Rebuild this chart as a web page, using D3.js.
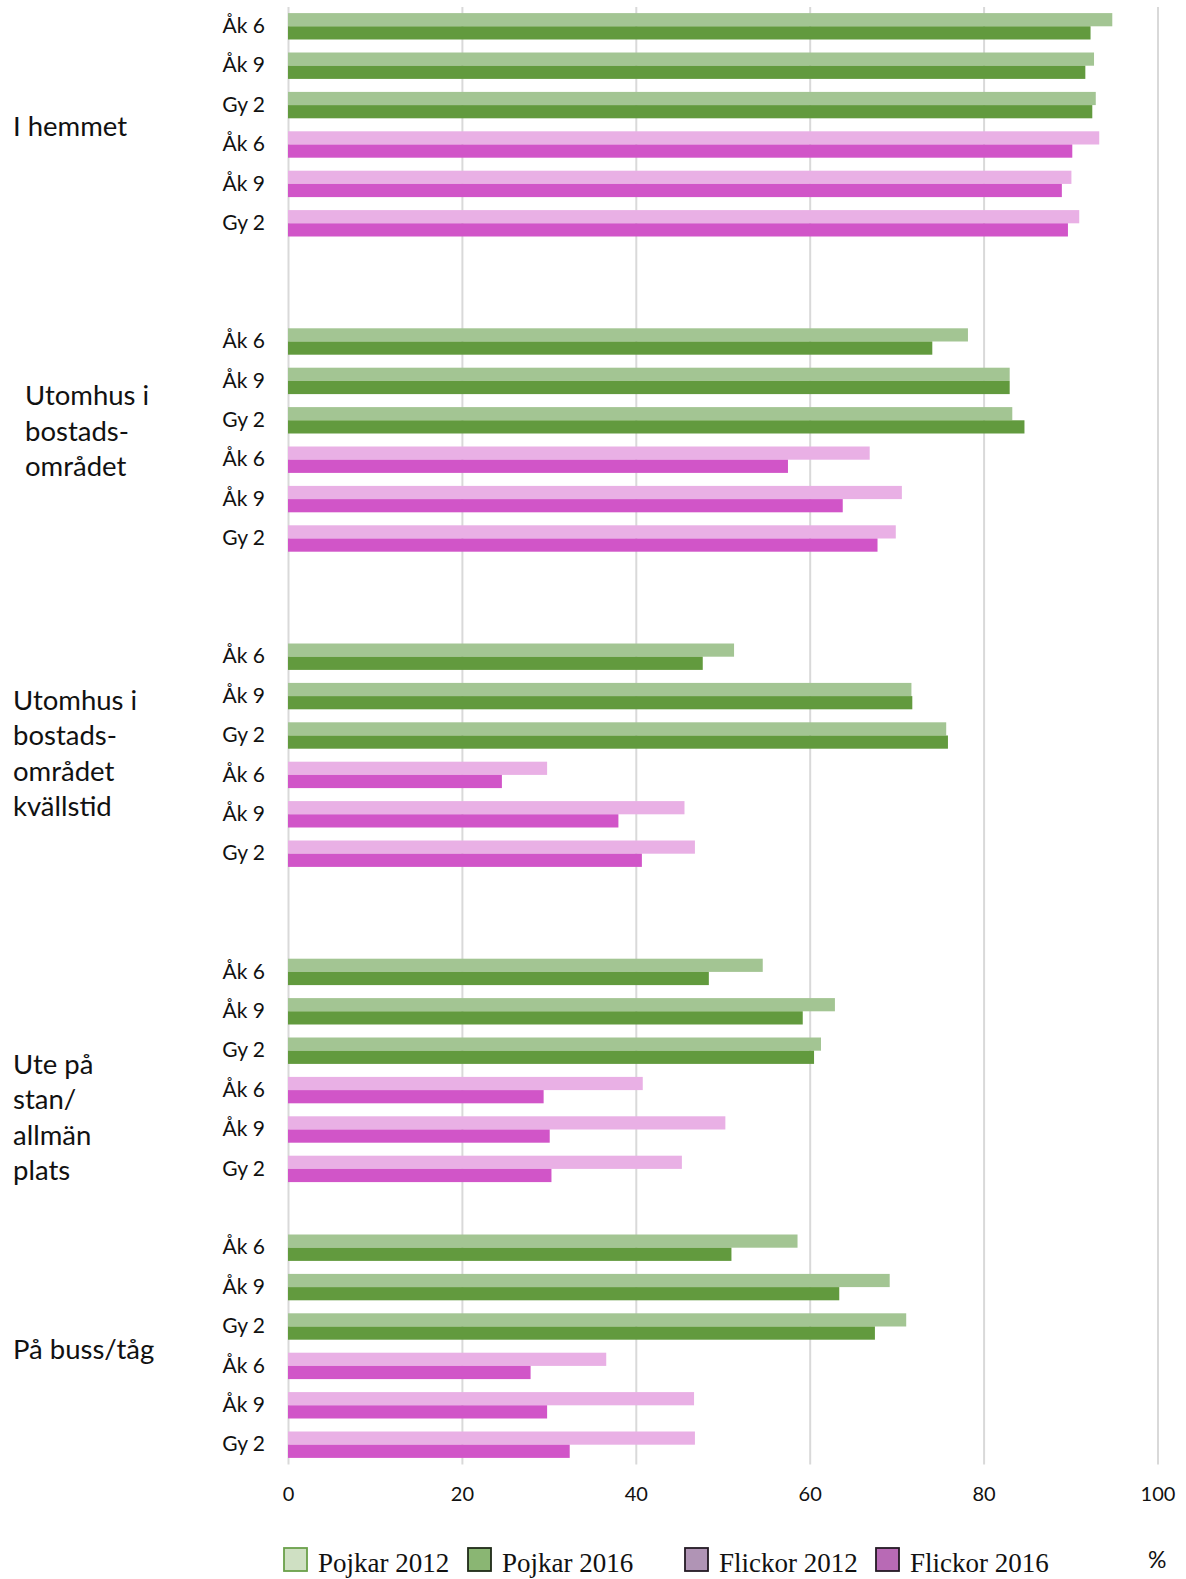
<!DOCTYPE html>
<html>
<head>
<meta charset="utf-8">
<script src="https://cdn.jsdelivr.net/npm/d3@7"></script>
<style>
  html, body { margin: 0; padding: 0; background: #fff; }
  svg { display: block; }
</style>
</head>
<body>
<script>
// ---------- DATA ----------
const groups = [
  ["I hemmet"],
  ["Utomhus i", "bostads-", "området"],
  ["Utomhus i", "bostads-", "området", "kvällstid"],
  ["Ute på", "stan/", "allmän", "plats"],
  ["På buss/tåg"]
];
const grades = ["Åk 6", "Åk 9", "Gy 2"];
const seriesNames = ["Pojkar 2012", "Pojkar 2016", "Flickor 2012", "Flickor 2016"];
// values per group, per grade (Åk 6, Åk 9, Gy 2), percent
const pojkar2012  = [[94.8, 92.7, 92.9], [78.2, 83.0, 83.3], [51.3, 71.7, 75.7], [54.6, 62.9, 61.3], [58.6, 69.2, 71.1]];
const pojkar2016  = [[92.3, 91.7, 92.5], [74.1, 83.0, 84.7], [47.7, 71.8, 75.9], [48.4, 59.2, 60.5], [51.0, 63.4, 67.5]];
const flickor2012 = [[93.3, 90.1, 91.0], [66.9, 70.6, 69.9], [29.8, 45.6, 46.8], [40.8, 50.3, 45.3], [36.6, 46.7, 46.8]];
const flickor2016 = [[90.2, 89.0, 89.7], [57.5, 63.8, 67.8], [24.6, 38.0, 40.7], [29.4, 30.1, 30.3], [27.9, 29.8, 32.4]];
const xTicks = [0, 20, 40, 60, 80, 100];
const unitLabel = "%";

// ---------- LAYOUT ----------
const W = 1186, H = 1579;
const plotLeft = 288, plotRight = 1157.5, plotTop = 6.6, plotBottom = 1464.4;
const spacerAfter = [2, 2, 2, 1, 0];
const groupLabelX = [13, 25, 13, 13, 13];
const groupLabelDy = [2, -9, -2, 47, 3];
const lineH = 35.5;

const colors = {
  p12: "#a3c593", p16: "#629a3e", f12: "#e9b0e5", f16: "#d155c8"
};

// build rows
const rows = [];
const groupRowIdx = [];
groups.forEach((g, gi) => {
  const first = rows.length;
  grades.forEach((gr, k) => rows.push({ key: "r" + rows.length, label: gr, a: pojkar2012[gi][k], b: pojkar2016[gi][k], ca: colors.p12, cb: colors.p16 }));
  grades.forEach((gr, k) => rows.push({ key: "r" + rows.length, label: gr, a: flickor2012[gi][k], b: flickor2016[gi][k], ca: colors.f12, cb: colors.f16 }));
  groupRowIdx.push([first, rows.length - 1]);
  for (let s = 0; s < spacerAfter[gi]; s++) rows.push({ key: "r" + rows.length, label: "", spacer: true });
});

const x = d3.scaleLinear().domain([0, 100]).range([plotLeft, plotRight]);
const y = d3.scaleBand().domain(rows.map(r => r.key)).range([plotTop, plotBottom]).padding(0);
const step = y.step();
const barH = step * 0.335;

const svg = d3.select("body").append("svg").attr("width", W).attr("height", H);

// grid + x axis labels
const xAxis = d3.axisBottom(x).tickValues(xTicks).tickSizeInner(-(plotBottom - 7)).tickSizeOuter(0).tickPadding(22.5);
const gx = svg.append("g").attr("transform", `translate(0,${plotBottom})`).call(xAxis);
gx.select(".domain").remove();
gx.selectAll(".tick line").attr("stroke", "#d9d9d9").attr("stroke-width", 2);
gx.selectAll(".tick text").attr("font-family", "Lato, 'Open Sans', sans-serif").attr("font-size", 20).attr("fill", "#111");

// bars
const rg = svg.append("g").selectAll("g").data(rows.filter(r => !r.spacer)).join("g")
  .attr("transform", d => `translate(0,${y(d.key) + step / 2})`);
rg.append("rect").attr("x", x(0)).attr("y", -barH).attr("height", barH)
  .attr("width", d => x(d.a) - x(0)).attr("fill", d => d.ca);
rg.append("rect").attr("x", x(0)).attr("y", 0).attr("height", barH)
  .attr("width", d => x(d.b) - x(0)).attr("fill", d => d.cb);

// category axis
const yAxis = d3.axisLeft(y).tickSize(0).tickPadding(23).tickFormat(k => rows.find(r => r.key === k).label);
const gy = svg.append("g").attr("transform", `translate(${plotLeft},0)`).call(yAxis);
gy.select(".domain").remove();
gy.selectAll(".tick text").attr("font-family", "Lato, 'Open Sans', sans-serif").attr("font-size", 21).attr("fill", "#111");

// group labels
groups.forEach((lines, gi) => {
  const [a, b] = groupRowIdx[gi];
  const cy = (y(rows[a].key) + y(rows[b].key)) / 2 + step / 2 + groupLabelDy[gi];
  const t = svg.append("text").attr("font-family", "Lato, 'Open Sans', sans-serif").attr("font-size", 27.5).attr("fill", "#111");
  const top = cy - (lines.length - 1) * lineH / 2;
  lines.forEach((ln, i) => {
    t.append("tspan").attr("x", groupLabelX[gi]).attr("y", top + i * lineH).attr("dy", "0.35em").text(ln);
  });
});

// legend
const legend = [
  { name: seriesNames[0], fill: "#cfe0c3", stroke: "#6aa04a", x: 284 },
  { name: seriesNames[1], fill: "#8ab673", stroke: "#1f2a18", x: 468 },
  { name: seriesNames[2], fill: "#b094b5", stroke: "#241a24", x: 685 },
  { name: seriesNames[3], fill: "#b86ab5", stroke: "#241a24", x: 876 }
];
const lg = svg.append("g").selectAll("g").data(legend).join("g").attr("transform", d => `translate(${d.x},1548)`);
lg.append("rect").attr("x", 0).attr("y", 0).attr("width", 23).attr("height", 23)
  .attr("fill", d => d.fill).attr("stroke", d => d.stroke).attr("stroke-width", 1.8);
lg.append("text").attr("x", 34).attr("y", 24).attr("font-family", "'Liberation Serif', 'Times New Roman', serif")
  .attr("font-size", 27).attr("fill", "#111").text(d => d.name);
svg.append("text").attr("x", 1148).attr("y", 1568).attr("font-family", "Lato, 'Open Sans', sans-serif")
  .attr("font-size", 23).attr("fill", "#111").text(unitLabel);
</script>
</body>
</html>
